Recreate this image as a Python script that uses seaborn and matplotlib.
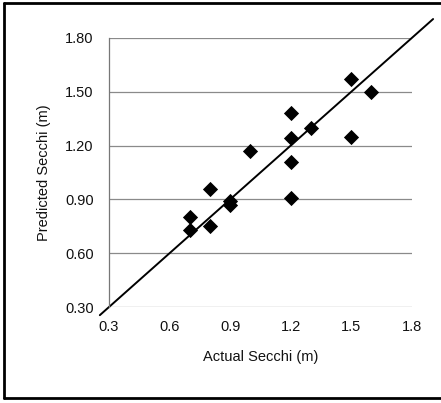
import matplotlib
matplotlib.use("Agg")
import matplotlib.pyplot as plt
import seaborn as sns
import pandas as pd
from matplotlib.lines import Line2D

actual = [0.70, 0.70, 0.80, 0.80, 0.90, 0.90, 1.00, 1.20, 1.20, 1.20, 1.20, 1.30, 1.50, 1.50, 1.60]
predicted = [0.80, 0.73, 0.96, 0.75, 0.89, 0.87, 1.17, 1.38, 1.24, 1.11, 0.91, 1.30, 1.57, 1.25, 1.50]
x_ticks = [0.3, 0.6, 0.9, 1.2, 1.5, 1.8]
x_labels = ["0.3", "0.6", "0.9", "1.2", "1.5", "1.8"]
y_ticks = [0.30, 0.60, 0.90, 1.20, 1.50, 1.80]
y_labels = ["0.30", "0.60", "0.90", "1.20", "1.50", "1.80"]
line_x = [0.255, 1.905]

sns.set_theme(style="white")
plt.rcParams['font.family'] = ['Liberation Sans', 'DejaVu Sans']

df = pd.DataFrame({"Actual": actual, "Predicted": predicted})

fig = plt.figure(figsize=(4.41, 4.03), dpi=100)
ax = fig.add_axes([0.247, 0.238, 0.687, 0.668])

for yt in y_ticks:
    ax.axhline(yt, color="#8a8a8a", lw=0.9, zorder=0)

ax.plot(line_x, line_x, color="black", lw=1.4, clip_on=False, zorder=2)

sns.scatterplot(data=df, x="Actual", y="Predicted", marker="D", color="black",
                s=60, edgecolor="black", linewidth=0, ax=ax, zorder=3)

ax.set_xlim(0.3, 1.8)
ax.set_ylim(0.3, 1.8)
ax.set_xticks(x_ticks)
ax.set_xticklabels(x_labels, fontsize=10.5)
ax.set_yticks(y_ticks)
ax.set_yticklabels(y_labels, fontsize=10.5)
ax.tick_params(axis="x", length=0, pad=9, colors="#111111")
ax.tick_params(axis="y", length=0, pad=11, colors="#111111")
ax.set_xlabel("Actual Secchi (m)", fontsize=10.5, labelpad=12, color="#111111")
ax.set_ylabel("Predicted Secchi (m)", fontsize=10.5, labelpad=10, color="#111111")

for side in ["top", "right", "bottom"]:
    ax.spines[side].set_visible(False)
ax.spines["left"].set_color("#777777")
ax.spines["left"].set_linewidth(0.9)

# outer frame (no right edge visible in reference)
frame_kw = dict(color="black", lw=2.0, transform=fig.transFigure)
fig.add_artist(Line2D([0.009, 0.009], [0.012, 0.993], **frame_kw))
fig.add_artist(Line2D([0.009, 1.0], [0.993, 0.993], **frame_kw))
fig.add_artist(Line2D([0.009, 1.0], [0.012, 0.012], **frame_kw))

fig.savefig("out.png", dpi=100)
